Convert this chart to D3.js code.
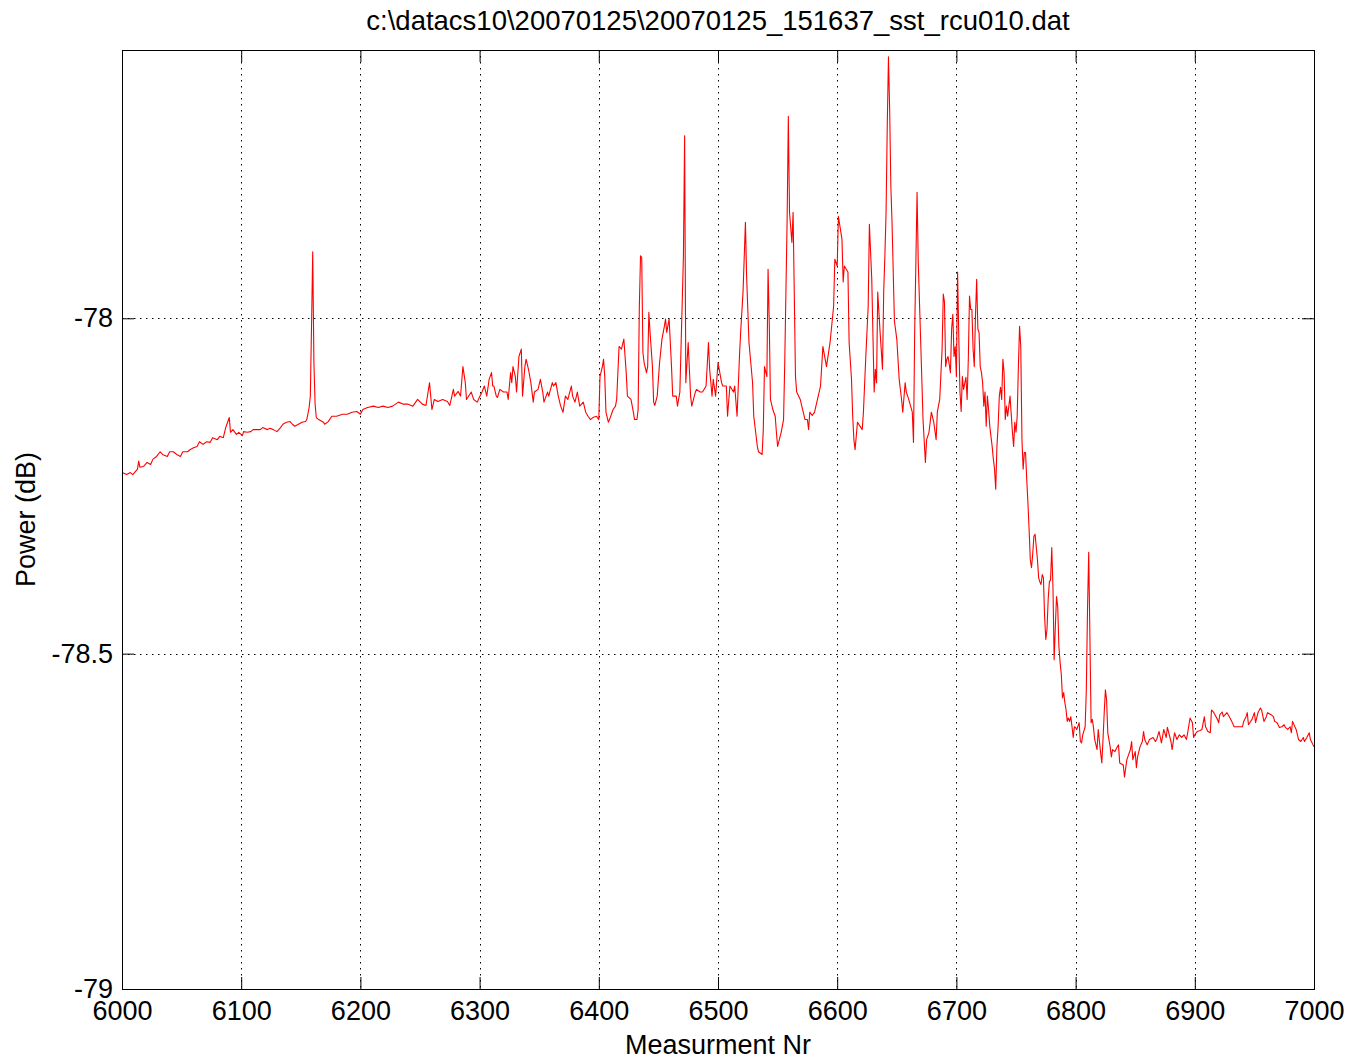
<!DOCTYPE html>
<html lang="en">
<head>
  <meta charset="UTF-8">
  <title>sst rcu010</title>
  <script src="https://d3js.org/d3.v7.min.js"></script>
  <style>
    body, html { margin: 0; padding: 0; background: #fff; }
    svg text { font-family: "Liberation Sans", Arial, Helvetica, sans-serif; fill: #000; }
  </style>
</head>
<body>
<svg id="svg" width="1350" height="1060"></svg>
<script>
  const title = "c:\\datacs10\\20070125\\20070125_151637_sst_rcu010.dat";
  const xLabel = "Measurment Nr";
  const yLabel = "Power (dB)";
  const xTicks = [6000, 6100, 6200, 6300, 6400, 6500, 6600, 6700, 6800, 6900, 7000];
  const yTicks = [-79, -78.5, -78];

  const measNr = [
    6000, 6004, 6007, 6009, 6013, 6014, 6015, 6018, 6021, 6024, 6026, 6029, 6032, 6034, 6038, 6040,
    6043, 6046, 6049, 6051, 6055, 6057, 6060, 6063, 6065, 6068, 6071, 6074, 6076, 6080, 6082, 6085,
    6087, 6088, 6090, 6091, 6093, 6096, 6098, 6101, 6102, 6105, 6108, 6110, 6113, 6116, 6118, 6122,
    6124, 6127, 6130, 6133, 6135, 6138, 6141, 6143, 6145, 6148, 6151, 6154, 6155, 6157, 6158, 6159,
    6160, 6161, 6162, 6163, 6165, 6169, 6170, 6173,
    6176, 6180, 6185, 6189, 6193, 6197, 6200, 6202, 6206, 6211, 6215, 6219, 6223, 6227, 6232, 6236,
    6240, 6244, 6248, 6252, 6255, 6258, 6260, 6262, 6265, 6269, 6273, 6275, 6278, 6279, 6282, 6284,
    6286, 6288, 6289, 6293, 6295, 6298, 6299, 6302, 6304, 6306, 6308, 6310, 6311, 6312, 6314, 6315,
    6317, 6320, 6323, 6324, 6326, 6327, 6328, 6330, 6331, 6333, 6335, 6336, 6338, 6339, 6341, 6343,
    6345, 6346, 6349, 6351, 6353, 6354, 6357, 6358, 6361, 6362, 6364, 6366, 6368, 6370, 6372, 6374,
    6377, 6378, 6380, 6382, 6384, 6387, 6389, 6391, 6393, 6395, 6398, 6400, 6401, 6403, 6404, 6405,
    6406, 6408, 6409, 6412, 6414, 6415, 6417, 6419, 6421, 6423, 6424, 6427, 6429, 6430, 6432, 6433,
    6434, 6435, 6436, 6437, 6438, 6440, 6441, 6442, 6443, 6445, 6446, 6447, 6449, 6450, 6451, 6453,
    6455, 6456, 6457, 6459, 6461, 6462, 6465, 6466, 6468, 6471, 6472, 6473, 6475, 6477, 6478, 6481,
    6482, 6485, 6487, 6490, 6492, 6493, 6495, 6496, 6498, 6500, 6503, 6504, 6507, 6508, 6510, 6513,
    6514, 6516, 6518, 6519, 6521, 6523, 6524, 6526, 6529, 6530, 6533, 6534, 6537, 6538, 6539, 6541,
    6542, 6543, 6544, 6546, 6548, 6549, 6550, 6553, 6555, 6556, 6558, 6559, 6560, 6562, 6563, 6565,
    6566, 6569, 6571, 6573, 6575, 6576, 6577, 6579, 6581, 6586, 6588, 6591, 6594, 6597, 6598, 6600,
    6601, 6604, 6605, 6606, 6609, 6610, 6612, 6613, 6614, 6615, 6617, 6621, 6622, 6624, 6626, 6627,
    6629, 6631, 6632, 6633, 6634, 6636, 6638, 6639, 6640, 6641, 6642, 6643, 6644, 6645, 6646, 6648,
    6650, 6652, 6654, 6655, 6657, 6658, 6660, 6663, 6664, 6665, 6667, 6668, 6671, 6672, 6674, 6675,
    6677, 6679, 6681, 6683, 6684, 6686, 6688, 6689, 6690, 6691, 6692, 6693, 6695, 6696, 6697, 6698,
    6699, 6700, 6701, 6702, 6703, 6704, 6705, 6706, 6708, 6709, 6710, 6711, 6712, 6713, 6714, 6715,
    6716, 6717, 6718, 6719, 6720, 6721, 6722, 6723, 6724, 6725, 6726, 6727, 6728, 6729, 6730, 6731,
    6732, 6733, 6734, 6735, 6736, 6737, 6738, 6739, 6740, 6741, 6742, 6743, 6744, 6745, 6747, 6748,
    6749, 6750, 6751, 6752, 6753, 6754, 6755, 6756, 6757, 6758, 6759, 6760, 6761, 6762, 6763, 6764,
    6765, 6766, 6768, 6769, 6770, 6771, 6772, 6773, 6774, 6775, 6776, 6777, 6778, 6779, 6780, 6781,
    6782, 6783, 6784, 6785, 6786, 6787, 6788, 6789, 6790, 6791, 6792, 6793, 6794, 6795, 6796, 6797,
    6798, 6799, 6800, 6801, 6803, 6804, 6805, 6806, 6808, 6809, 6810, 6811, 6812, 6813, 6814, 6815,
    6816, 6818, 6819, 6820, 6821, 6822, 6823, 6824, 6825, 6826, 6827, 6829, 6830, 6831, 6833, 6835,
    6836, 6837, 6840, 6841, 6843, 6846, 6847, 6848, 6850, 6851, 6852, 6854, 6856, 6857, 6858, 6860,
    6862, 6865, 6867, 6868, 6870, 6872, 6874, 6876, 6877, 6880, 6881, 6883, 6885, 6887, 6889, 6891,
    6893, 6894, 6896, 6898, 6899, 6900, 6902, 6904, 6906, 6908, 6909, 6911, 6913, 6914, 6916, 6919,
    6920, 6921, 6923, 6924, 6927, 6929, 6931, 6933, 6935, 6937, 6940, 6941, 6943, 6944, 6945, 6948,
    6950, 6951, 6953, 6955, 6956, 6958, 6960, 6961, 6964, 6966, 6967, 6969, 6971, 6973, 6975, 6976,
    6978, 6980, 6981, 6982, 6985, 6987, 6989, 6991, 6992, 6994, 6996, 6997, 7000
  ];
  const powerDb = [
    -78.230, -78.233, -78.230, -78.233, -78.225, -78.213, -78.222, -78.221, -78.215, -78.218, -78.210, -78.206, -78.199, -78.203, -78.206, -78.199,
    -78.199, -78.203, -78.206, -78.199, -78.199, -78.196, -78.193, -78.191, -78.184, -78.188, -78.184, -78.185, -78.178, -78.181, -78.176, -78.178,
    -78.163, -78.158, -78.148, -78.170, -78.166, -78.173, -78.170, -78.175, -78.169, -78.170, -78.169, -78.166, -78.166, -78.166, -78.163, -78.166,
    -78.164, -78.166, -78.169, -78.163, -78.158, -78.155, -78.154, -78.158, -78.161, -78.158, -78.155, -78.154, -78.151, -78.133, -78.116, -78.012,
    -77.901, -78.066, -78.128, -78.148, -78.151, -78.155, -78.158, -78.154,
    -78.146, -78.146, -78.143, -78.143, -78.140, -78.139, -78.143, -78.136, -78.133, -78.131, -78.133, -78.131, -78.133, -78.131, -78.125, -78.128,
    -78.128, -78.131, -78.121, -78.128, -78.130, -78.096, -78.136, -78.121, -78.124, -78.121, -78.124, -78.130, -78.106, -78.116, -78.109, -78.116,
    -78.072, -78.096, -78.121, -78.110, -78.121, -78.125, -78.121, -78.110, -78.101, -78.116, -78.091, -78.081, -78.101, -78.101, -78.116, -78.118,
    -78.106, -78.110, -78.110, -78.121, -78.081, -78.096, -78.072, -78.087, -78.110, -78.057, -78.046, -78.116, -78.072, -78.061, -78.076, -78.096,
    -78.125, -78.110, -78.106, -78.091, -78.110, -78.125, -78.110, -78.116, -78.096, -78.101, -78.096, -78.116, -78.131, -78.140, -78.116, -78.121,
    -78.101, -78.116, -78.125, -78.110, -78.131, -78.125, -78.140, -78.146, -78.151, -78.148, -78.146, -78.151, -78.087, -78.072, -78.061, -78.087,
    -78.140, -78.155, -78.151, -78.136, -78.131, -78.121, -78.042, -78.046, -78.031, -78.081, -78.116, -78.121, -78.140, -78.151, -78.151, -78.136,
    -77.984, -77.907, -77.909, -78.051, -78.066, -78.081, -78.072, -77.991, -78.021, -78.072, -78.125, -78.130, -78.116, -78.091, -78.066, -78.031,
    -78.012, -78.001, -78.021, -78.001, -78.072, -78.116, -78.116, -78.131, -78.110, -77.907, -77.728, -78.096, -78.036, -78.116, -78.131, -78.110,
    -78.106, -78.110, -78.110, -78.101, -78.036, -78.076, -78.116, -78.091, -78.116, -78.066, -78.096, -78.101, -78.101, -78.146, -78.101, -78.110,
    -78.101, -78.146, -78.057, -78.021, -77.961, -77.857, -77.937, -78.036, -78.096, -78.146, -78.191, -78.199, -78.203, -78.166, -78.072, -78.087,
    -77.927, -78.006, -78.121, -78.136, -78.146, -78.170, -78.191, -78.170, -78.151, -78.066, -77.852, -77.699, -77.842, -77.887, -77.842, -78.087,
    -78.110, -78.121, -78.136, -78.151, -78.151, -78.166, -78.140, -78.145, -78.140, -78.101, -78.042, -78.072, -78.036, -77.982, -77.912, -77.922,
    -77.848, -77.882, -77.946, -77.922, -77.931, -78.036, -78.091, -78.146, -78.181, -78.196, -78.155, -78.166, -78.140, -78.057, -77.982, -77.860,
    -77.942, -78.110, -78.076, -78.096, -77.961, -78.021, -78.076, -77.961, -77.907, -77.842, -77.713, -77.610, -77.688, -77.803, -77.857, -78.004,
    -78.031, -78.091, -78.121, -78.140, -78.096, -78.110, -78.121, -78.140, -78.185, -78.021, -77.812, -77.916, -78.091, -78.151, -78.215, -78.181,
    -78.170, -78.140, -78.155, -78.181, -78.140, -78.121, -78.046, -77.964, -77.976, -78.072, -78.061, -78.057, -78.081, -78.016, -77.994, -78.057,
    -78.042, -78.087, -77.931, -78.027, -78.110, -78.139, -78.087, -78.106, -78.088, -78.121, -78.061, -77.967, -77.987, -77.987, -78.046, -78.072,
    -77.997, -77.942, -78.016, -78.021, -78.072, -78.081, -78.096, -78.131, -78.110, -78.161, -78.116, -78.136, -78.161, -78.176, -78.191, -78.210,
    -78.225, -78.255, -78.191, -78.161, -78.116, -78.103, -78.121, -78.061, -78.081, -78.151, -78.131, -78.146, -78.131, -78.116, -78.170, -78.191,
    -78.155, -78.170, -78.146, -78.072, -78.012, -78.042, -78.181, -78.225, -78.200, -78.200, -78.240, -78.275, -78.315, -78.360, -78.372, -78.352,
    -78.325, -78.322, -78.360, -78.387, -78.393, -78.397, -78.382, -78.387, -78.445, -78.479, -78.464, -78.419, -78.393, -78.390, -78.342, -78.400,
    -78.509, -78.460, -78.415, -78.430, -78.490, -78.513, -78.531, -78.566, -78.558, -78.573, -78.584, -78.601, -78.596, -78.601, -78.594, -78.609,
    -78.625, -78.609, -78.610, -78.613, -78.603, -78.631, -78.633, -78.621, -78.609, -78.554, -78.434, -78.349, -78.475, -78.603, -78.598, -78.610,
    -78.628, -78.643, -78.613, -78.631, -78.648, -78.663, -78.628, -78.588, -78.554, -78.569, -78.618, -78.639, -78.654, -78.643, -78.646, -78.639,
    -78.636, -78.663, -78.666, -78.684, -78.658, -78.643, -78.631, -78.658, -78.646, -78.670, -78.654, -78.639, -78.631, -78.616, -78.628, -78.636,
    -78.628, -78.625, -78.631, -78.628, -78.616, -78.633, -78.613, -78.625, -78.610, -78.631, -78.643, -78.618, -78.628, -78.621, -78.625, -78.621,
    -78.628, -78.618, -78.596, -78.603, -78.625, -78.621, -78.616, -78.615, -78.613, -78.594, -78.609, -78.616, -78.618, -78.584, -78.588, -78.598,
    -78.603, -78.591, -78.587, -78.594, -78.588, -78.594, -78.601, -78.609, -78.609, -78.609, -78.609, -78.601, -78.594, -78.588, -78.606, -78.598,
    -78.588, -78.603, -78.588, -78.581, -78.584, -78.601, -78.594, -78.588, -78.591, -78.594, -78.601, -78.603, -78.610, -78.609, -78.606, -78.610,
    -78.613, -78.609, -78.618, -78.601, -78.613, -78.628, -78.631, -78.625, -78.631, -78.625, -78.618, -78.628, -78.639
  ];

  const plotLeft = 122, plotRight = 1314, plotTop = 50, plotBottom = 989;
  const svg = d3.select("#svg");

  const x = d3.scaleLinear().domain([6000, 7000]).range([plotLeft, plotRight]);
  const y = d3.scaleLinear().domain([-79, -77.6]).range([plotBottom, plotTop]);

  svg.append("rect")
    .attr("width", 1350).attr("height", 1060).attr("fill", "#fff");

  // dotted grid
  const grid = svg.append("g")
    .attr("stroke", "#000")
    .attr("stroke-width", 1)
    .attr("stroke-dasharray", "1.5,4.5");
  grid.selectAll("line.gx")
    .data(xTicks.slice(1, -1))
    .join("line")
    .attr("class", "gx")
    .attr("x1", d => Math.round(x(d)) + 0.5).attr("x2", d => Math.round(x(d)) + 0.5)
    .attr("y1", plotTop).attr("y2", plotBottom);
  grid.selectAll("line.gy")
    .data(yTicks.slice(1))
    .join("line")
    .attr("class", "gy")
    .attr("x1", plotLeft).attr("x2", plotRight)
    .attr("y1", d => Math.round(y(d)) + 0.5).attr("y2", d => Math.round(y(d)) + 0.5);

  // data line
  const n = Math.min(measNr.length, powerDb.length);
  const series = measNr.slice(0, n).map((m, i) => [m, powerDb[i]]);
  svg.append("path")
    .datum(series)
    .attr("fill", "none")
    .attr("stroke", "#ff0000")
    .attr("stroke-width", 1.1)
    .attr("stroke-linejoin", "round")
    .attr("d", d3.line().x(d => x(d[0])).y(d => y(d[1])));

  // axes, ticks pointing inwards
  const fontSize = 27;
  const gx = svg.append("g")
    .attr("transform", `translate(0,${plotBottom})`)
    .call(d3.axisBottom(x).tickValues(xTicks).tickFormat(d3.format("d"))
      .tickSizeInner(-12).tickSizeOuter(0).tickPadding(12));
  const gxTop = svg.append("g")
    .attr("transform", `translate(0,${plotTop})`)
    .call(d3.axisTop(x).tickValues(xTicks).tickFormat("")
      .tickSizeInner(-12).tickSizeOuter(0));
  const gy = svg.append("g")
    .attr("transform", `translate(${plotLeft},0)`)
    .call(d3.axisLeft(y).tickValues(yTicks).tickFormat(d => d)
      .tickSizeInner(-12).tickSizeOuter(0).tickPadding(9));
  const gyRight = svg.append("g")
    .attr("transform", `translate(${plotRight},0)`)
    .call(d3.axisRight(y).tickValues(yTicks).tickFormat("")
      .tickSizeInner(-12).tickSizeOuter(0));

  [gx, gxTop, gy, gyRight].forEach(g => {
    g.select(".domain").remove();
    g.selectAll("line").attr("stroke", "#000").attr("stroke-width", 1);
    g.selectAll("text")
      .attr("font-size", fontSize)
      .attr("font-family", "Liberation Sans, Arial, sans-serif")
      .attr("fill", "#000");
  });

  // box
  svg.append("rect")
    .attr("x", plotLeft + 0.5).attr("y", plotTop + 0.5)
    .attr("width", plotRight - plotLeft).attr("height", plotBottom - plotTop)
    .attr("fill", "none")
    .attr("stroke", "#000")
    .attr("stroke-width", 1);

  svg.append("text")
    .attr("x", (plotLeft + plotRight) / 2)
    .attr("y", 30)
    .attr("text-anchor", "middle")
    .attr("font-size", 27.5)
    .text(title);

  svg.append("text")
    .attr("x", (plotLeft + plotRight) / 2)
    .attr("y", 1054)
    .attr("text-anchor", "middle")
    .attr("font-size", fontSize)
    .text(xLabel);

  svg.append("text")
    .attr("transform", `translate(35,${(plotTop + plotBottom) / 2}) rotate(-90)`)
    .attr("text-anchor", "middle")
    .attr("font-size", fontSize)
    .text(yLabel);
</script>
</body>
</html>
